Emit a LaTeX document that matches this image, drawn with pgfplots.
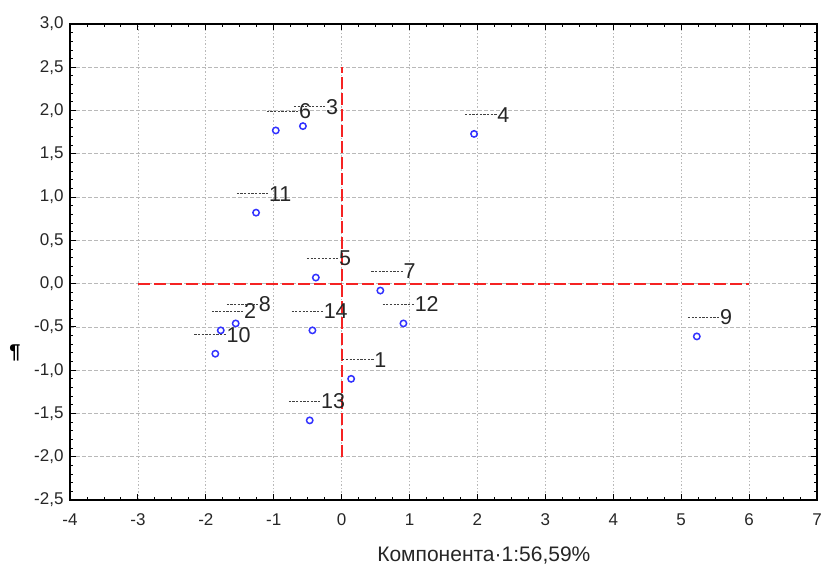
\documentclass[border=0pt]{standalone}
\usepackage{pgfplots}
\pgfplotsset{compat=1.18}
\usepackage{pgfplotstable}
\usepackage{fontspec}
\setmainfont{Liberation Sans}
\definecolor{ptblue}{RGB}{50,50,255}
\definecolor{axred}{RGB}{245,35,35}
\newcommand\ldr{{\color{black!75}\xleaders\hbox to 3.6pt{\hss\rule[0.34em]{2.2pt}{0.9pt}\hss}\hskip 33pt}}

\pgfplotstableread{
x y lab
0.14 -1.10 1
-1.78 -0.54 2
-0.57 1.82 3
1.95 1.73 4
-0.38 0.07 5
-0.97 1.77 6
0.57 -0.08 7
-1.56 -0.46 8
5.23 -0.61 9
-1.86 -0.81 10
-1.26 0.82 11
0.91 -0.46 12
-0.47 -1.58 13
-0.43 -0.54 14
}\pts

\pgfplotstableread{
x y
-3 0
6 0
}\hline

\pgfplotstableread{
x y
0 -2
0 2.5
}\vline

\begin{document}
\begin{tikzpicture}
\begin{axis}[
  scale only axis,
  width=747pt, height=476pt,
  xmin=-4, xmax=7, ymin=-2.5, ymax=3,
  xtick={-4,...,7},
  ytick={-2.5,-2,...,3},
  minor x tick num=3,
  minor y tick num=4,
  tick align=inside,
  major tick length=6pt,
  minor tick length=3pt,
  tick style={black, line width=0.9pt},
  axis line style={black, line width=1.3pt},
  grid=major,
  x grid style={gray!55, line width=0.8pt, dash pattern=on 1.5pt off 2pt},
  y grid style={gray!55, line width=0.8pt, dash pattern=on 4pt off 2pt},
  /pgf/number format/assume math mode=true,
  ticklabel style={font=\fontsize{17}{20}\selectfont, text=black!85},
  yticklabel style={xshift=-3pt, /pgf/number format/.cd, fixed, fixed zerofill, precision=1, use comma},
  xticklabel style={yshift=-10pt, /pgf/number format/.cd, fixed},
  xlabel={Компонента·1:56,59\%},
  xlabel style={font=\fontsize{21}{25}\selectfont, text=black!85, at={(axis description cs:0.554,0)}, anchor=center, yshift=-56pt},
  ylabel={¶},
  ylabel style={font=\fontsize{20}{24}\bfseries, at={(axis description cs:0,0.31)}, anchor=center, rotate=-90, xshift=-55pt},
  clip=false,
]
\addplot+[no markers, color=axred, solid, line width=2pt, dash pattern=on 12pt off 4pt] table[x=x,y=y] {\hline};
\addplot+[no markers, color=axred, solid, line width=2pt, dash pattern=on 12pt off 4pt] table[x=x,y=y] {\vline};
\addplot[only marks, mark=o, mark size=3.2pt, draw=ptblue, mark options={draw=ptblue, line width=1.5pt},
  point meta=explicit symbolic,
  nodes near coords={\ldr\pgfplotspointmeta},
  every node near coord/.append style={anchor=east, inner sep=0pt, xshift=36pt, yshift=19pt,
    text=black!85, font=\fontsize{21.5}{25}\selectfont}]
  table[x=x, y=y, meta=lab] {\pts};
\end{axis}
\pgfresetboundingbox
\path (-70pt,-72pt) rectangle (755pt,500pt);
\end{tikzpicture}
\end{document}
